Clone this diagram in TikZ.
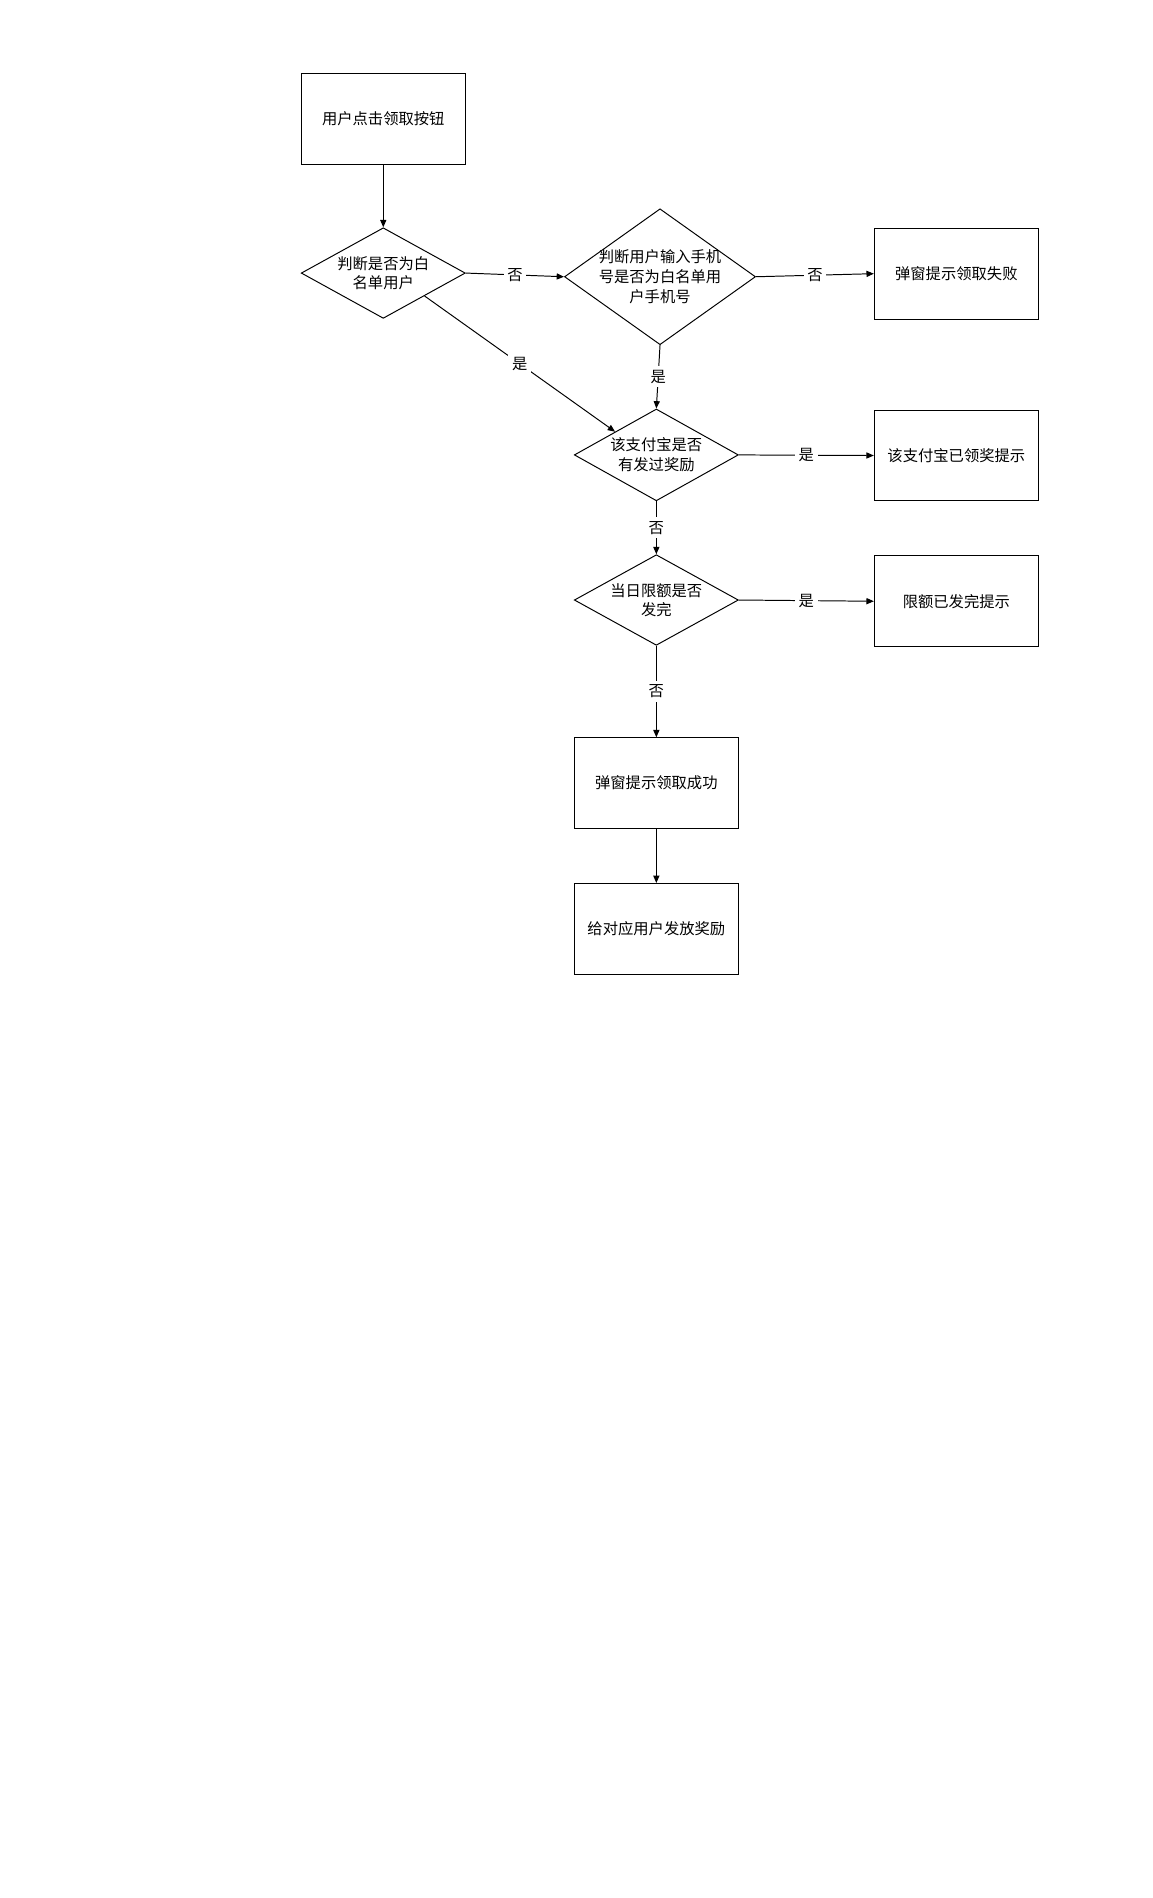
\documentclass[tikz,border=0pt]{standalone}
\usepackage{fontspec}
\setmainfont{Noto Sans CJK SC}
\usetikzlibrary{shapes.geometric,arrows.meta}
\begin{document}
\begin{tikzpicture}[x=1pt,y=-1pt,
  font=\fontsize{12.5}{16}\selectfont,
  every path/.style={line width=0.8pt},
  box/.style={draw,minimum width=134pt,minimum height=74pt,inner sep=0pt,align=center},
  dia/.style={draw,diamond,inner sep=0pt},
  txt/.style={align=center,inner sep=0pt},
  arr/.style={-{Triangle[length=6pt,width=5pt]}},
  lab/.style={fill=white,inner sep=3pt}]
\useasboundingbox (0,0) rectangle (941,1550);
\node[box] (start) at (313,97) {用户点击领取按钮};
\node[dia,minimum width=134pt,minimum height=74pt] (d1) at (313,223) {};
\node[txt] (t1) at (313,223) {判断是否为白\\名单用户};
\node[dia,minimum width=156pt,minimum height=111pt] (d2) at (539,226) {};
\node[txt] (t2) at (539,226) {判断用户输入手机\\号是否为白名单用\\户手机号};
\node[box] (fail) at (781,223.5) {弹窗提示领取失败};
\node[dia,minimum width=134pt,minimum height=75pt] (d3) at (536,371.5) {};
\node[txt] (t3) at (536,371.5) {该支付宝是否\\有发过奖励};
\node[box] (got) at (781,372) {该支付宝已领奖提示};
\node[dia,minimum width=134pt,minimum height=74pt] (d4) at (536,490) {};
\node[txt] (t4) at (536,490) {当日限额是否\\发完};
\node[box] (limit) at (781,491) {限额已发完提示};
\node[box] (succ) at (536,639.5) {弹窗提示领取成功};
\node[box] (final) at (536,758.5) {给对应用户发放奖励};
\draw[arr] (start) -- (d1);
\draw[arr] (d1.east) -- node[lab]{否} (d2.west);
\draw[arr] (d2.east) -- node[lab]{否} (fail.west);
\draw[arr] (d1.south east) -- node[lab]{是} (d3.north west);
\draw[arr] (d2.south) -- node[lab]{是} (d3.north);
\draw[arr] (d3.east) -- node[lab]{是} (got.west);
\draw[arr] (d3.south) -- node[lab]{否} (d4.north);
\draw[arr] (d4.east) -- node[lab]{是} (limit.west);
\draw[arr] (d4.south) -- node[lab]{否} (succ.north);
\draw[arr] (succ) -- (final);
\end{tikzpicture}
\end{document}
